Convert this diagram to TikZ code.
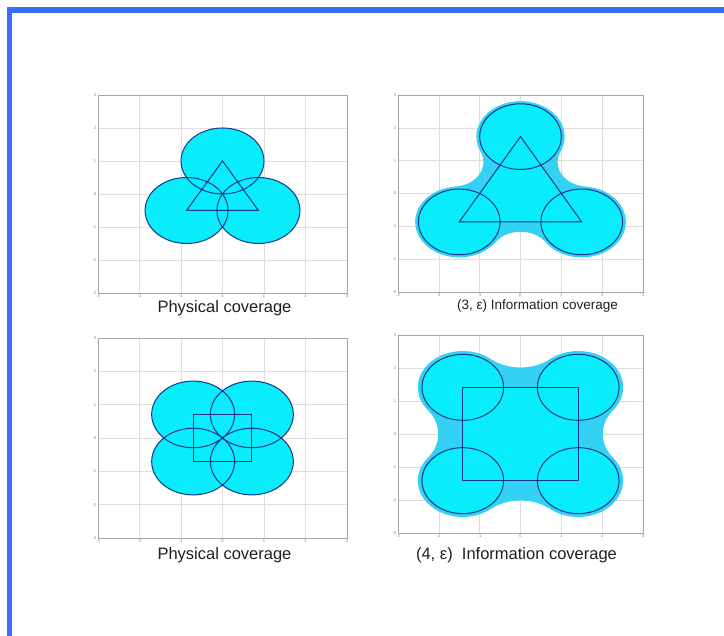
\documentclass[tikz,border=0pt]{standalone}
\usepackage{fontspec}
\setmainfont{Liberation Sans}
\definecolor{bordc}{RGB}{58,108,255}
\definecolor{gridc}{RGB}{222,222,222}
\definecolor{axisc}{RGB}{165,165,165}
\definecolor{tickc}{RGB}{120,120,120}
\definecolor{cyanf}{RGB}{8,236,252}
\definecolor{blobf}{RGB}{52,210,242}
\definecolor{edgec}{RGB}{22,52,140}
\newcommand\plotframe[1]{%
  \foreach \g in {-2,...,2} {
    \draw[gridl] (\g,-3) -- (\g,3);
    \draw[gridl] (-3,\g) -- (3,\g);
  }
  \draw[boxl] (-3,-3) rectangle (3,3);
  \foreach \v [count=\i] in {-3,...,3} {
    \node[tick, anchor=east] (#1y\i) at (-3.03,\v) {\v};
    \node[tick, anchor=north] (#1x\i) at (\v,-3.03) {\v};
  }
}
\begin{document}
\begin{tikzpicture}[x=1pt,y=1pt,
  gridl/.style={draw=gridc, line width=0.5pt},
  boxl/.style={draw=axisc, line width=0.6pt},
  cov/.style={fill=cyanf},
  edgeline/.style={draw=edgec, line width=1pt},
  blob/.style={fill=blobf},
  tick/.style={font=\fontsize{4}{4}\selectfont, text=tickc, inner sep=0.5pt},
  title/.style={inner sep=0pt, text=black!88}]
\useasboundingbox (0,0) rectangle (724,636);
% frame border
\fill[bordc] (7,629) rectangle (724,623);
\fill[bordc] (7,629) rectangle (11.5,0);

% ---------- top left: physical coverage, 3 sensors ----------
\begin{scope}[shift={(222.5,442)}, xscale=41.5, yscale=33]
  \plotframe{a}
  \fill[cov] (0,1) circle[radius=1];
  \fill[cov] (-0.866,-0.5) circle[radius=1];
  \fill[cov] (0.866,-0.5) circle[radius=1];
  \draw[edgeline] (0,1) circle[radius=1];
  \draw[edgeline] (-0.866,-0.5) circle[radius=1];
  \draw[edgeline] (0.866,-0.5) circle[radius=1];
  \draw[edgeline] (0,1) -- (-0.866,-0.5) -- (0.866,-0.5) -- cycle;
\end{scope}

% ---------- top right: (3,eps) information coverage ----------
\begin{scope}[shift={(520.5,442.5)}, xscale=40.83, yscale=32.83]
  \plotframe{b}
  \fill[blob] (0.6147,-1.4845)
    arc[start angle=214.94, end angle=445.06, radius=1.08]
    arc[start angle=265.06, end angle=154.94, radius=0.75]
    arc[start angle=334.94, end angle=565.06, radius=1.08]
    arc[start angle=25.06, end angle=-85.06, radius=0.75]
    arc[start angle=94.94, end angle=325.06, radius=1.08]
    arc[start angle=145.06, end angle=34.94, radius=0.75] -- cycle;
  \fill[cov] (0,1.732) -- (-1.5,-0.866) -- (1.5,-0.866) -- cycle;
  \fill[cov] (0,1.732) circle[radius=1];
  \fill[cov] (-1.5,-0.866) circle[radius=1];
  \fill[cov] (1.5,-0.866) circle[radius=1];
  \draw[edgeline] (0,1.732) circle[radius=1];
  \draw[edgeline] (-1.5,-0.866) circle[radius=1];
  \draw[edgeline] (1.5,-0.866) circle[radius=1];
  \draw[edgeline] (0,1.732) -- (-1.5,-0.866) -- (1.5,-0.866) -- cycle;
\end{scope}

% ---------- bottom left: physical coverage, 4 sensors ----------
\begin{scope}[shift={(222.5,198)}, xscale=41.5, yscale=33.33]
  \plotframe{c}
  \fill[cov] (0.707,0.707) circle[radius=1];
  \fill[cov] (-0.707,0.707) circle[radius=1];
  \fill[cov] (-0.707,-0.707) circle[radius=1];
  \fill[cov] (0.707,-0.707) circle[radius=1];
  \draw[edgeline] (0.707,0.707) circle[radius=1];
  \draw[edgeline] (-0.707,0.707) circle[radius=1];
  \draw[edgeline] (-0.707,-0.707) circle[radius=1];
  \draw[edgeline] (0.707,-0.707) circle[radius=1];
  \draw[edgeline] (-0.707,-0.707) rectangle (0.707,0.707);
\end{scope}

% ---------- bottom right: (4,eps) information coverage ----------
\begin{scope}[shift={(520.5,202)}, xscale=40.83, yscale=33]
  \plotframe{d}
  \fill[blob] (2.2696,0.7226)
    arc[start angle=-38.94, end angle=128.94, radius=1.1]
    arc[start angle=308.94, end angle=231.06, radius=1.15]
    arc[start angle=51.06, end angle=218.94, radius=1.1]
    arc[start angle=38.94, end angle=-38.94, radius=1.15]
    arc[start angle=141.06, end angle=308.94, radius=1.1]
    arc[start angle=128.94, end angle=51.06, radius=1.15]
    arc[start angle=231.06, end angle=398.94, radius=1.1]
    arc[start angle=218.94, end angle=141.06, radius=1.15] -- cycle;
  \fill[cov] (-1.414,-1.414) rectangle (1.414,1.414);
  \fill[cov] (1.414,1.414) circle[radius=1];
  \fill[cov] (-1.414,1.414) circle[radius=1];
  \fill[cov] (-1.414,-1.414) circle[radius=1];
  \fill[cov] (1.414,-1.414) circle[radius=1];
  \draw[edgeline] (1.414,1.414) circle[radius=1];
  \draw[edgeline] (-1.414,1.414) circle[radius=1];
  \draw[edgeline] (-1.414,-1.414) circle[radius=1];
  \draw[edgeline] (1.414,-1.414) circle[radius=1];
  \draw[edgeline] (-1.414,-1.414) rectangle (1.414,1.414);
\end{scope}

% ---------- titles ----------
\node[title, font=\fontsize{16.5}{18}\selectfont] (t1) at (224.5,328) {Physical coverage};
\node[title, font=\fontsize{13.5}{15}\selectfont] (t2) at (537.5,330) {(3, ε) Information coverage};
\node[title, font=\fontsize{16.5}{18}\selectfont] (t3) at (224.5,81) {Physical coverage};
\node[title, font=\fontsize{16.5}{18}\selectfont] (t4) at (516.5,81) {(4, ε)\ \ Information coverage};
\end{tikzpicture}
\end{document}
